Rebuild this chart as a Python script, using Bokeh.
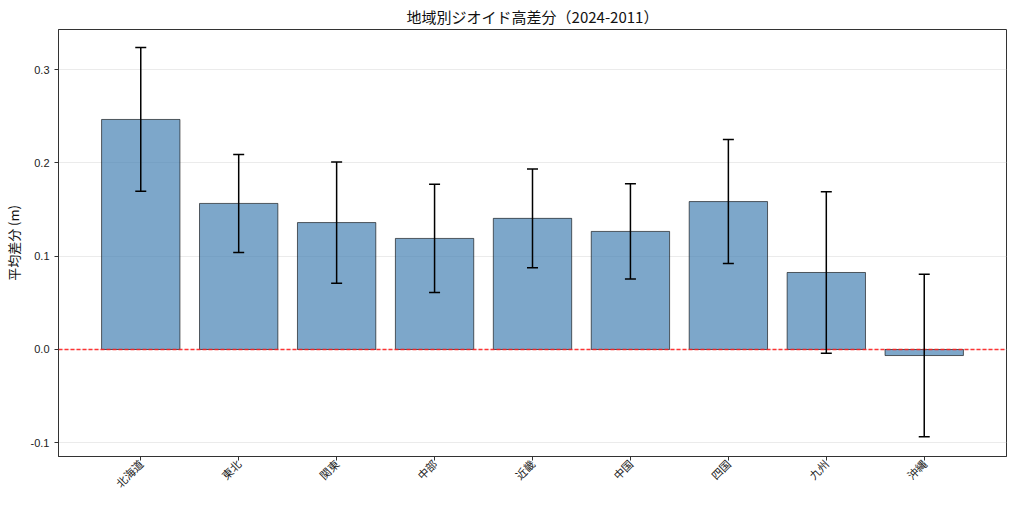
import math
from bokeh.plotting import figure
from bokeh.models import ColumnDataSource, Whisker, TeeHead, Span, FixedTicker, Range1d
from bokeh.embed import file_html
from bokeh.resources import INLINE

regions = ["北海道", "東北", "関東", "中部", "近畿", "中国", "四国", "九州", "沖縄"]
mean_diff = [0.2465, 0.1565, 0.136, 0.119, 0.1405, 0.1265, 0.1585, 0.0825, -0.0065]
std_diff = [0.0770, 0.0525, 0.0650, 0.0580, 0.0530, 0.0510, 0.0665, 0.0865, 0.0870]
y_ticks = [-0.1, 0.0, 0.1, 0.2, 0.3]

xs = list(range(len(regions)))
src = ColumnDataSource(dict(
    x=xs,
    top=mean_diff,
    upper=[m + s for m, s in zip(mean_diff, std_diff)],
    lower=[m - s for m, s in zip(mean_diff, std_diff)],
))

JP = "Noto Sans CJK JP"

p = figure(width=1008, height=499, output_backend="svg", toolbar_location=None,
           x_range=Range1d(-0.84, 8.84), y_range=Range1d(-0.1147, 0.3429),
           min_border_left=49, min_border_top=0, min_border_bottom=40, min_border_right=2)

p.title.text = "地域別ジオイド高差分（2024-2011）"
p.title.align = "center"
p.title.text_font = JP
p.title.text_font_size = "15px"
p.title.text_font_style = "normal"
p.title.text_color = "#111111"
p.title.standoff = 6

p.vbar(x="x", top="top", bottom=0, width=0.8, source=src,
       fill_color="steelblue", fill_alpha=0.7, line_color="black", line_alpha=0.6, line_width=1)

p.add_layout(Span(location=0, dimension="width", line_color="#ff2020", line_alpha=0.9,
                  line_width=1.4, line_dash="4 2", level="overlay"))

tee_u = TeeHead(size=11, line_color="black", line_width=1.5)
tee_l = TeeHead(size=11, line_color="black", line_width=1.5)
p.add_layout(Whisker(source=src, base="x", upper="upper", lower="lower", level="overlay",
                     line_color="black", line_width=1.5, upper_head=tee_u, lower_head=tee_l))

p.xaxis.ticker = FixedTicker(ticks=xs)
p.xaxis.major_label_overrides = {i: r for i, r in enumerate(regions)}
p.xaxis.major_label_orientation = math.pi / 4
p.xaxis.major_label_text_font = JP
p.xaxis.major_label_text_font_size = "11px"
p.xaxis.major_label_text_color = "#222222"
p.xaxis.major_label_standoff = 1

p.yaxis.ticker = FixedTicker(ticks=y_ticks)
p.yaxis.major_label_overrides = {t: f"{t:.1f}" for t in y_ticks}
p.yaxis.major_label_text_font = "Liberation Sans"
p.yaxis.major_label_text_font_size = "11px"
p.yaxis.major_label_text_color = "#222222"
p.yaxis.axis_label = "平均差分 (m)"
p.yaxis.axis_label_text_font = JP
p.yaxis.axis_label_text_font_size = "13px"
p.yaxis.axis_label_text_font_style = "normal"
p.yaxis.axis_label_text_color = "#111111"

for ax in (p.xaxis, p.yaxis):
    ax.minor_tick_line_color = None
    ax.major_tick_out = 4
    ax.major_tick_in = 0
    ax.major_tick_line_color = "#333333"
    ax.axis_line_color = "#333333"

p.xgrid.grid_line_color = None
p.ygrid.grid_line_color = "#e2e2e2"
p.ygrid.grid_line_alpha = 0.7
p.outline_line_color = "#333333"
p.outline_line_width = 1

open("out.html", "w").write(file_html(p, INLINE))
